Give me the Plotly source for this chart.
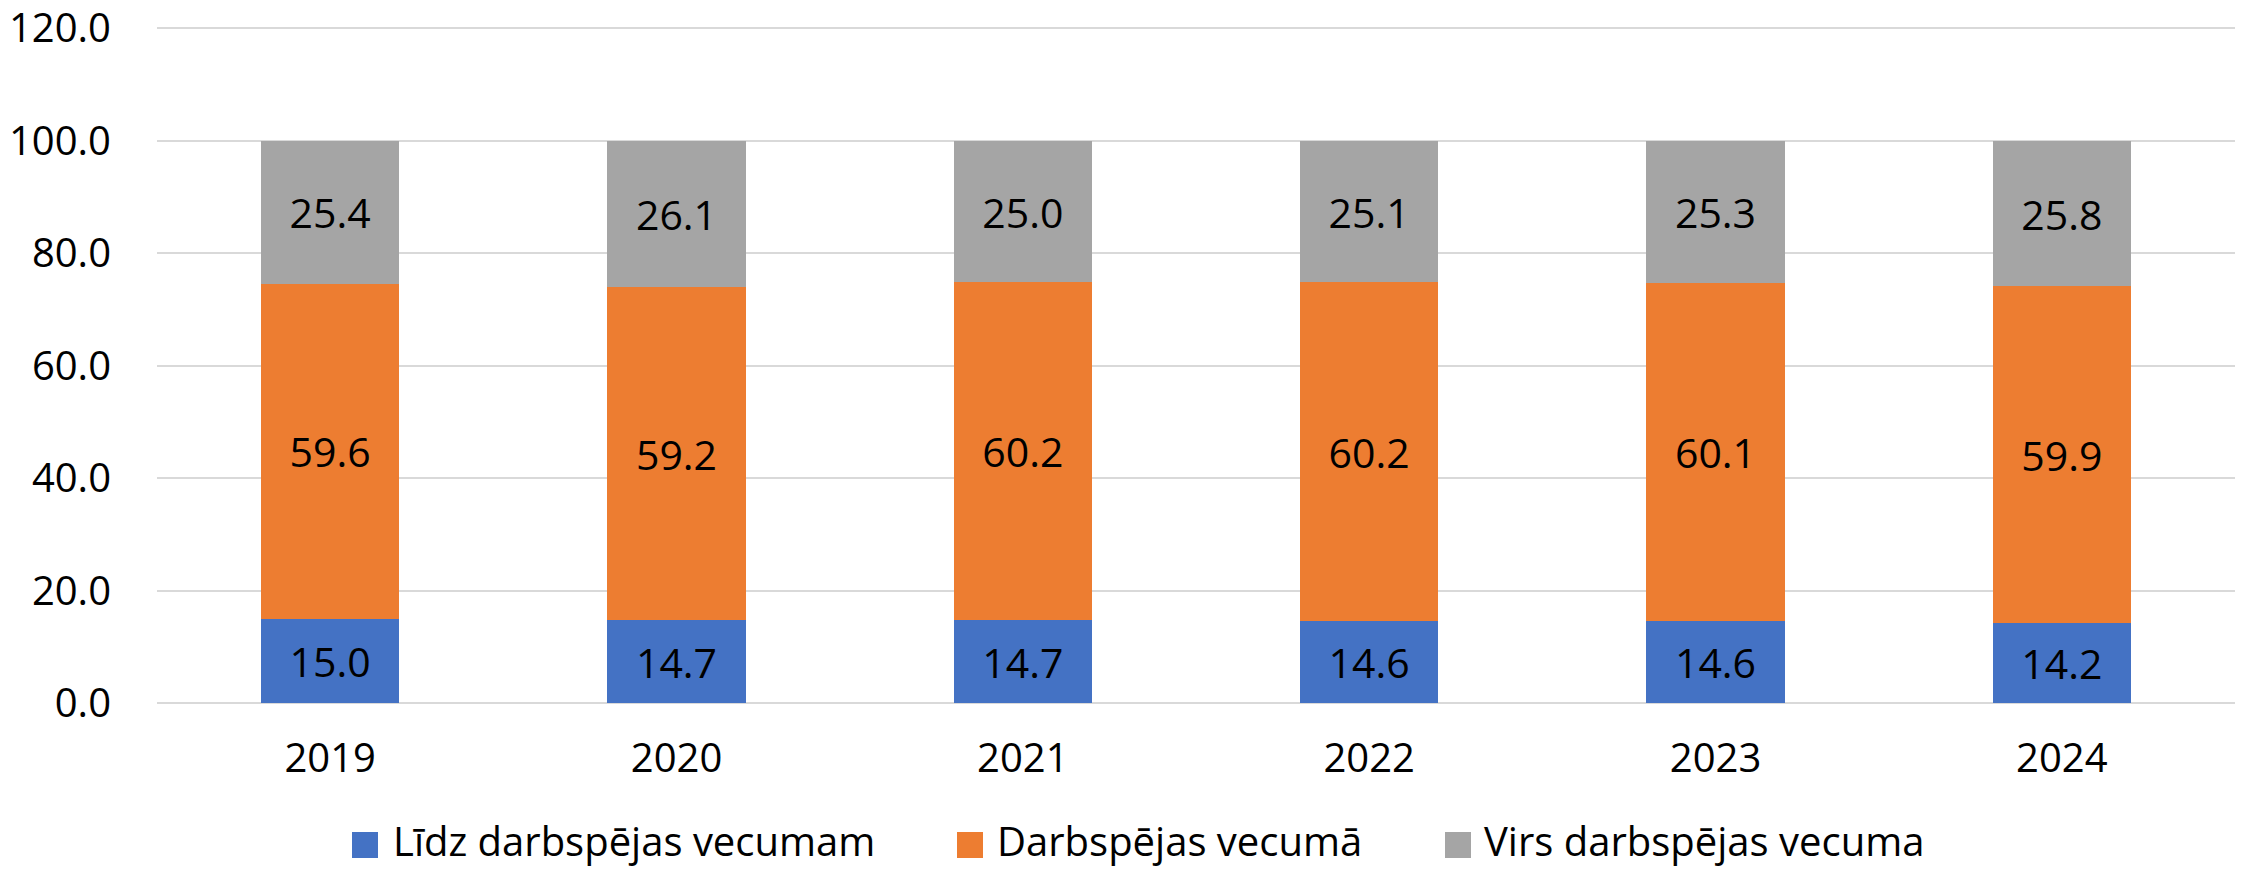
import plotly.graph_objects as go

years = ["2019", "2020", "2021", "2022", "2023", "2024"]
series_names = ["Līdz darbspējas vecumam", "Darbspējas vecumā", "Virs darbspējas vecuma"]
below = [15.0, 14.7, 14.7, 14.6, 14.6, 14.2]
working = [59.6, 59.2, 60.2, 60.2, 60.1, 59.9]
above = [25.4, 26.1, 25.0, 25.1, 25.3, 25.8]
y_ticks = [0, 20, 40, 60, 80, 100, 120]
colors = ["#4472C4", "#ED7D31", "#A5A5A5"]

FONT = "Open Sans"
W, H = 2249, 869
ML, MR, MT, MB = 157, 14, 26, 166
PW, PH = W - ML - MR, H - MT - MB

def px_x(px):
    return (px - ML) / PW

def px_y(py):
    return (H - MB - py) / PH

fig = go.Figure()
for name, vals, col in zip(series_names, [below, working, above], colors):
    fig.add_trace(go.Bar(
        x=years, y=vals, name=name, marker=dict(color=col, line=dict(width=0)),
        texttemplate="%{y:.1f}", textposition="inside", insidetextanchor="middle",
        textfont=dict(family=FONT, size=41, color="#000000"),
        constraintext="none", showlegend=False,
    ))

# legend drawn as swatches + text below the plot
legend_marker_x = [352, 957, 1445]
legend_text_x = [391, 995, 1482]
sw = 26
cy = 845
for name, col, mx, tx in zip(series_names, colors, legend_marker_x, legend_text_x):
    fig.add_shape(type="rect", xref="paper", yref="paper",
                  x0=px_x(mx), x1=px_x(mx + sw), y0=px_y(cy + sw / 2), y1=px_y(cy - sw / 2),
                  fillcolor=col, line=dict(width=0))
    fig.add_annotation(xref="paper", yref="paper", x=px_x(tx), y=px_y(cy - 5),
                       xanchor="left", yanchor="middle", showarrow=False, text=name,
                       font=dict(family=FONT, size=40, color="#000000"))

fig.update_layout(
    barmode="stack", bargap=0.6,
    width=W, height=H,
    margin=dict(l=ML, r=MR, t=MT, b=MB, autoexpand=False),
    plot_bgcolor="white", paper_bgcolor="white",
    font=dict(family=FONT, size=40, color="#000000"),
    showlegend=False,
    xaxis=dict(showgrid=False, showline=False, ticks="", ticklabelstandoff=28,
               tickfont=dict(family=FONT, size=40), automargin=False),
    yaxis=dict(range=[0, 120.4], tickvals=y_ticks, tickformat=".1f",
               showgrid=True, gridcolor="#D9D9D9", gridwidth=2, zeroline=True,
               zerolinecolor="#D9D9D9", zerolinewidth=2, ticks="", ticklabelstandoff=45,
               ticklabeloverflow="allow",
               tickfont=dict(family=FONT, size=40), automargin=False),
)
fig.write_html("out.html", config={"displayModeBar": False},
               post_script="document.body.style.margin='0';")
